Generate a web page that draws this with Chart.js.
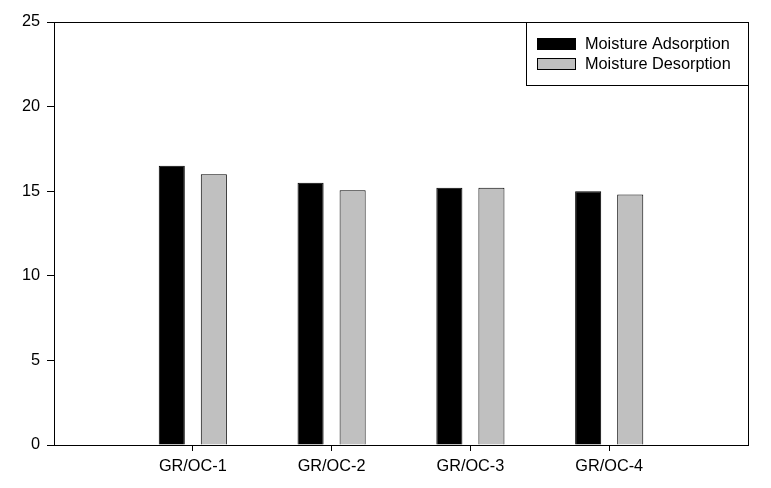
<!DOCTYPE html>
<html>
<head>
<meta charset="utf-8">
<script src="https://cdn.jsdelivr.net/npm/chart.js@4.4.1/dist/chart.umd.min.js"></script>
<style>
  html, body { margin: 0; padding: 0; background: #fff; }
  #wrap { width: 771px; height: 488px; }
</style>
</head>
<body>
<div id="wrap"><canvas id="grafico"></canvas></div>
<script>
const categorias = ["GR/OC-1", "GR/OC-2", "GR/OC-3", "GR/OC-4"];
const adsorcion = [16.5, 15.5, 15.2, 15.0];
const desorcion = [16.0, 15.05, 15.2, 14.8];
const ticksY = [0, 5, 10, 15, 20, 25];

// slots vacios a los lados para que las barras queden en 1..4 de 0..5
const etiquetas = ["", ...categorias, ""];
const conHuecos = (arr) => [null, ...arr, null];

const fuente = { family: "'Liberation Sans', Arial, sans-serif", size: 16.3 };

// marco + leyenda dentro del area del grafico
const marcoYLeyenda = {
  id: "marcoYLeyenda",
  afterDraw(chart) {
    const { ctx, chartArea: a } = chart;
    ctx.save();
    ctx.strokeStyle = "#000";
    ctx.lineWidth = 1;
    ctx.strokeRect(a.left + 0.5, a.top + 0.5, a.right - a.left, a.bottom - a.top);

    const w = 222, h = 63;
    const x0 = a.right - w, y0 = a.top;
    ctx.fillStyle = "#fff";
    ctx.fillRect(x0 + 0.5, y0 + 0.5, w, h);
    ctx.strokeRect(x0 + 0.5, y0 + 0.5, w, h);

    ctx.font = `${fuente.size}px ${fuente.family}`;
    ctx.textBaseline = "alphabetic";
    chart.data.datasets.forEach((ds, i) => {
      const yy = y0 + 16 + i * 20;
      ctx.fillStyle = ds.backgroundColor;
      ctx.fillRect(x0 + 11, yy, 38, 11);
      ctx.strokeRect(x0 + 11.5, yy + 0.5, 38, 11);
      ctx.fillStyle = "#000";
      ctx.fillText(ds.label, x0 + 59, yy + 10.5);
    });
    ctx.restore();
  }
};

new Chart(document.getElementById("grafico"), {
  type: "bar",
  data: {
    labels: etiquetas,
    datasets: [
      {
        label: "Moisture Adsorption",
        data: conHuecos(adsorcion),
        backgroundColor: "#000000",
        borderColor: "#000000",
        borderWidth: 1
      },
      {
        label: "Moisture Desorption",
        data: conHuecos(desorcion),
        backgroundColor: "#c0c0c0",
        borderColor: "#000000",
        borderWidth: 1
      }
    ]
  },
  options: {
    responsive: true,
    maintainAspectRatio: false,
    animation: false,
    categoryPercentage: 0.606,
    barPercentage: 0.62,
    layout: { padding: { top: 22, right: 23, left: 0, bottom: 0 } },
    plugins: {
      legend: { display: false },
      tooltip: { enabled: false }
    },
    scales: {
      x: {
        offset: false,
        grid: {
          offset: false,
          drawOnChartArea: false,
          drawTicks: true,
          tickLength: 6,
          tickColor: (c) => (c.index === 0 || c.index === etiquetas.length - 1) ? "rgba(0,0,0,0)" : "#000"
        },
        border: { display: false },
        ticks: { color: "#000", font: fuente, padding: 6, maxRotation: 0, autoSkip: false },
        afterFit: (s) => { s.height = 43; }
      },
      y: {
        min: 0,
        max: 25,
        afterBuildTicks: (s) => { s.ticks = ticksY.map((v) => ({ value: v })); },
        grid: {
          drawOnChartArea: false,
          drawTicks: true,
          tickLength: 7,
          tickColor: "#000"
        },
        border: { display: false },
        ticks: { color: "#000", font: fuente, padding: 7 },
        afterFit: (s) => { s.width = 54; }
      }
    }
  },
  plugins: [marcoYLeyenda]
});
</script>
</body>
</html>
